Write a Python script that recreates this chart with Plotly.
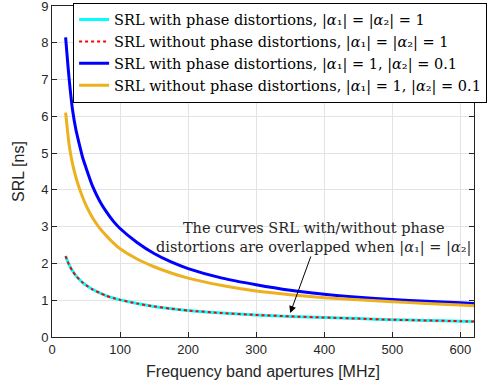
import plotly.graph_objects as go

x_vals = [20, 22, 25, 30, 35, 40, 45, 50, 60, 70, 80, 90, 100, 125, 150, 175, 200, 250, 300, 350, 400, 450, 500, 550, 600, 620]
blue_vals = [8.15, 7.7, 7.05, 6.2, 5.65, 5.25, 4.88, 4.6, 4.08, 3.7, 3.4, 3.15, 2.95, 2.57, 2.27, 2.04, 1.86, 1.6, 1.42, 1.27, 1.16, 1.08, 1.02, 0.97, 0.93, 0.91]
orange_vals = [6.1, 5.75, 5.25, 4.72, 4.35, 4.05, 3.8, 3.58, 3.23, 2.96, 2.75, 2.56, 2.4, 2.12, 1.91, 1.74, 1.6, 1.4, 1.25, 1.15, 1.07, 1.01, 0.96, 0.91, 0.87, 0.85]
cyan_vals = [2.2, 2.1, 1.97, 1.8, 1.67, 1.57, 1.48, 1.41, 1.29, 1.2, 1.12, 1.06, 1.01, 0.91, 0.83, 0.77, 0.72, 0.65, 0.6, 0.56, 0.53, 0.5, 0.47, 0.45, 0.43, 0.42]
red_vals = [2.2, 2.1, 1.97, 1.8, 1.67, 1.57, 1.48, 1.41, 1.29, 1.2, 1.12, 1.06, 1.01, 0.91, 0.83, 0.77, 0.72, 0.65, 0.6, 0.56, 0.53, 0.5, 0.47, 0.45, 0.43, 0.42]

names = [
    "SRL with phase distortions, |<i>α</i>₁| = |<i>α</i>₂| = 1",
    "SRL without phase distortions, |<i>α</i>₁| = |<i>α</i>₂| = 1",
    "SRL with phase distortions, |<i>α</i>₁| = 1, |<i>α</i>₂| = 0.1",
    "SRL without phase distortions, |<i>α</i>₁| = 1, |<i>α</i>₂| = 0.1",
]

SERIF = "DejaVu Serif, Liberation Serif, serif"
SANS = "Liberation Sans, Arial, sans-serif"

fig = go.Figure()
fig.add_trace(go.Scatter(x=x_vals, y=cyan_vals, mode="lines", name=names[0],
                         line=dict(color="#00FFFF", width=3, shape="spline", smoothing=0.6)))
fig.add_trace(go.Scatter(x=x_vals, y=red_vals, mode="lines", name=names[1],
                         line=dict(color="#FF0000", width=2, dash="dot", shape="spline", smoothing=0.6)))
fig.add_trace(go.Scatter(x=x_vals, y=blue_vals, mode="lines", name=names[2],
                         line=dict(color="#0000FF", width=3, shape="spline", smoothing=0.6)))
fig.add_trace(go.Scatter(x=x_vals, y=orange_vals, mode="lines", name=names[3],
                         line=dict(color="#EDB120", width=3, shape="spline", smoothing=0.6)))

axis_common = dict(
    showline=True, linecolor="#262626", linewidth=1, mirror="allticks",
    ticks="inside", ticklen=5, tickcolor="#262626",
    showgrid=True, gridcolor="#E3E3E3", gridwidth=1, zeroline=False,
    ticklabeloverflow="allow",
    tickfont=dict(family=SANS, size=13, color="#262626"),
)

fig.update_xaxes(range=[0, 620], tickvals=[0, 100, 200, 300, 400, 500, 600],
                 title=dict(text="Frequency band apertures [MHz]", standoff=10,
                            font=dict(family=SANS, size=16, color="#262626")),
                 **axis_common)
fig.update_yaxes(range=[0, 9], tickvals=list(range(10)),
                 title=dict(text="SRL [ns]", standoff=12,
                            font=dict(family=SANS, size=16, color="#262626")),
                 **axis_common)

fig.add_annotation(x=350, y=0.65, ax=381, ay=2.23, axref="x", ayref="y",
                   xref="x", yref="y", text="", showarrow=True,
                   arrowhead=2, arrowsize=1.4, arrowwidth=1, arrowcolor="#000000")
fig.add_annotation(x=384, y=2.69, xref="x", yref="y", showarrow=False,
                   text="The curves SRL with/without phase<br>distortions are overlapped when |<i>α</i>₁| = |<i>α</i>₂|",
                   align="center",
                   font=dict(family=SERIF, size=14.5, color="#262626"))

fig.update_layout(
    width=500, height=390,
    margin=dict(l=52, r=26, t=6, b=53, autoexpand=False),
    paper_bgcolor="white", plot_bgcolor="white",
    showlegend=True,
    legend=dict(x=0.05, y=1.01, xanchor="left", yanchor="top",
                bgcolor="white", bordercolor="#000000", borderwidth=1,
                font=dict(family=SERIF, size=14.5, color="#000000"),
                tracegroupgap=0, itemwidth=30),
)

fig.write_html("out.html")
